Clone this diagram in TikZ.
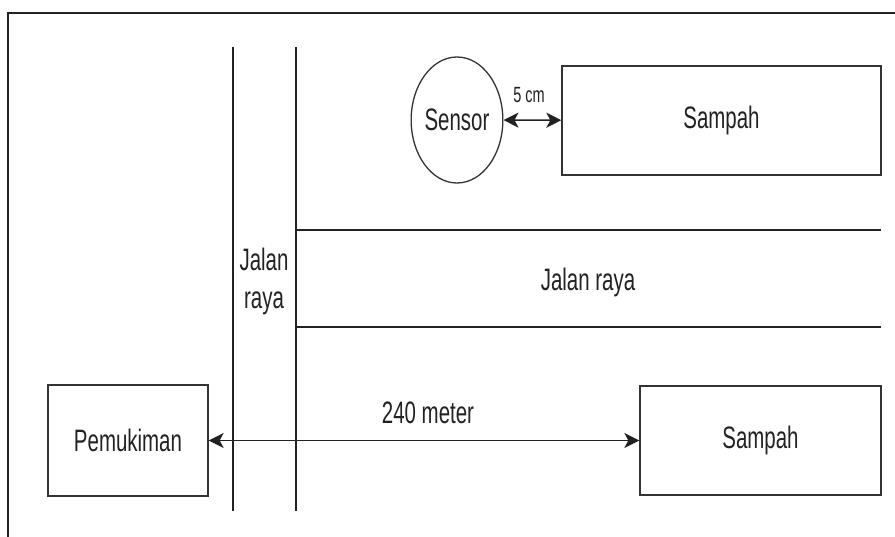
\documentclass[tikz,border=0pt]{standalone}
\usepackage{fontspec}
\setmainfont[FakeStretch=0.66]{Liberation Sans}
\usepackage{xcolor}
\usepackage{tikz}
\usetikzlibrary{arrows.meta,positioning,shapes.geometric}
\definecolor{ink}{HTML}{222222}
\definecolor{edge}{HTML}{333333}
\tikzset{
  box/.style={draw=edge, line width=1.3pt, rectangle, inner sep=0pt,
              minimum height=109pt, align=center, text=ink,
              font=\fontsize{31}{38}\selectfont},
  sens/.style={box, ellipse, minimum width=81pt, minimum height=126pt},
  road/.style={draw=ink, line width=1.3pt},
  frm/.style={draw=ink, line width=2pt},
  ar/.style={{Stealth[length=15pt,width=15pt,inset=4pt]}-{Stealth[length=15pt,width=15pt,inset=4pt]},
             line width=1.6pt, draw=ink},
  lbl/.style={font=\fontsize{31}{38}\selectfont, text=ink, align=center, inner sep=0pt},
}
\begin{document}
\begin{tikzpicture}[x=1pt, y=-1pt]
  \useasboundingbox (0,0) rectangle (895,537);
  % bingkai kiri dan atas
  \draw[frm] (8,537) -- (8,13) -- (895,13);

  % jalan raya: dua garis tegak, dua garis datar
  \draw[road] (233,47) -- (233,511);
  \draw[road] (296,47) -- (296,511);
  \draw[road] (297,230) -- (881,230);
  \draw[road] (297,327) -- (881,327);

  \node[sens] (sensor) at (457,120) {Sensor};
  \node[box, minimum width=319pt] (sampah1) at (721.5,120.5) {Sampah};
  \node[box, minimum width=241pt] (sampah2) at (760.5,440.5) {Sampah};
  \node[box, minimum width=160pt, minimum height=111pt] (pemukiman) at (128,440.5) {Pemukiman};

  \draw[ar] (sensor) -- (sampah1);
  \draw[ar] (pemukiman) -- (sampah2);

  % label jarak dan nama jalan
  \node[lbl, font=\fontsize{22}{26}\selectfont] (jarak1) at (529,95) {5 cm};
  \node[lbl] (jarak2) at (428,413) {240 meter};
  \node[lbl] (jalan1) at (588,282) {Jalan raya};
  \node[lbl] (jalan2) at (264,281) {Jalan\\raya};
\end{tikzpicture}
\end{document}
